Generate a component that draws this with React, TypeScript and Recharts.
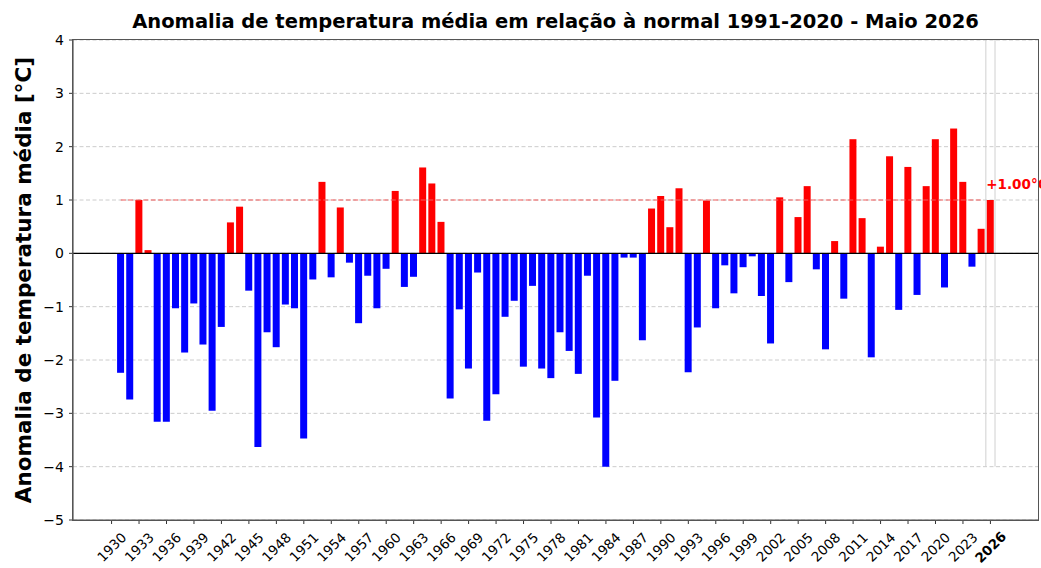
import {
  Bar,
  BarChart,
  CartesianGrid,
  Cell,
  ReferenceArea,
  ReferenceLine,
  XAxis,
  YAxis,
} from 'recharts'

const YEARS = [
  1930, 1931, 1932, 1933, 1934, 1935, 1936, 1937, 1938, 1939,
  1940, 1941, 1942, 1943, 1944, 1945, 1946, 1947, 1948, 1949,
  1950, 1951, 1952, 1953, 1954, 1955, 1956, 1957, 1958, 1959,
  1960, 1961, 1962, 1963, 1964, 1965, 1966, 1967, 1968, 1969,
  1970, 1971, 1972, 1973, 1974, 1975, 1976, 1977, 1978, 1979,
  1980, 1981, 1982, 1983, 1984, 1985, 1986, 1987, 1988, 1989,
  1990, 1991, 1992, 1993, 1994, 1995, 1996, 1997, 1998, 1999,
  2000, 2001, 2002, 2003, 2004, 2005, 2006, 2007, 2008, 2009,
  2010, 2011, 2012, 2013, 2014, 2015, 2016, 2017, 2018, 2019,
  2020, 2021, 2022, 2023, 2024, 2025, 2026,
]

// anomalia (°C) face à normal 1991-2020, maio de cada ano
const ANOMALIES = [
  0, -2.24, -2.74, 1.0, 0.06, -3.16, -3.16, -1.03, -1.86, -0.94,
  -1.71, -2.95, -1.38, 0.58, 0.875, -0.7, -3.63, -1.48, -1.76, -0.96,
  -1.03, -3.47, -0.49, 1.34, -0.45, 0.86, -0.175, -1.31, -0.42, -1.03,
  -0.29, 1.17, -0.63, -0.44, 1.61, 1.31, 0.59, -2.72, -1.05, -2.16,
  -0.36, -3.14, -2.64, -1.19, -0.89, -2.125, -0.61, -2.16, -2.34, -1.48,
  -1.83, -2.26, -0.42, -3.08, -4.0, -2.39, -0.08, -0.08, -1.63, 0.84,
  1.075, 0.49, 1.22, -2.23, -1.39, 0.99, -1.03, -0.225, -0.75, -0.26,
  -0.056, -0.8, -1.69, 1.05, -0.54, 0.68, 1.26, -0.3, -1.8, 0.23,
  -0.85, 2.14, 0.66, -1.95, 0.125, 1.82, -1.06, 1.62, -0.78, 1.26,
  2.14, -0.64, 2.34, 1.34, -0.25, 0.46, 1.0,
]

const Y_TICKS = [-5, -4, -3, -2, -1, 0, 1, 2, 3, 4]
const CURRENT_YEAR = 2026
const THRESHOLD = 1.0

const FONT = '"DejaVu Sans", sans-serif'
const FRAME = '#555'

// plot box, also used for the frame drawn around it
const PLOT = { left: 73, top: 40, width: 965, height: 480 }

const data = YEARS.map((year, i) => ({ year, value: ANOMALIES[i] }))

function formatMinus(v: number): string {
  return v < 0 ? `\u2212${Math.abs(v)}` : String(v)
}

function YearTick({ x, y, payload }: any) {
  const bold = payload.value === CURRENT_YEAR
  return (
    <g transform={`translate(${x},${y + 21}) rotate(-45)`}>
      <text
        textAnchor="middle"
        dominantBaseline="central"
        fontFamily={FONT}
        fontSize={13.5}
        fontWeight={bold ? 'bold' : 'normal'}
        fill="#000"
      >
        {payload.value}
      </text>
    </g>
  )
}

function YLabel({ viewBox }: any) {
  const cx = 23
  const cy = viewBox.y + viewBox.height / 2
  return (
    <text
      x={cx}
      y={cy}
      transform={`rotate(-90, ${cx}, ${cy})`}
      textAnchor="middle"
      dominantBaseline="central"
      fontFamily={FONT}
      fontSize={21.5}
      fontWeight="bold"
      fill="#000"
    >
      Anomalia de temperatura média [°C]
    </text>
  )
}

// the reference lets this label run past the right edge, so it is kept that way
function ThresholdLabel({ viewBox }: any) {
  return (
    <text
      x={viewBox.x + viewBox.width + 5}
      y={viewBox.y - 11}
      fontFamily={FONT}
      fontSize={13.5}
      fontWeight="bold"
      fill="#ff0000"
    >
      +{THRESHOLD.toFixed(2)}°C
    </text>
  )
}

/** only the two side edges of the highlighted year, like the original */
function SideEdges({ x, y, width, height }: any) {
  return (
    <g stroke="#d0d0d0" strokeWidth={1}>
      <line x1={x} y1={y} x2={x} y2={y + height} />
      <line x1={x + width} y1={y} x2={x + width} y2={y + height} />
    </g>
  )
}

export default function App() {
  return (
    <div style={{ position: 'relative', width: 1041, height: 568, background: '#fff', overflow: 'hidden' }}>
      <style>{'body{margin:0}'}</style>
      <div
        style={{
          position: 'absolute',
          left: PLOT.left,
          width: PLOT.width,
          top: 10,
          textAlign: 'center',
          fontFamily: FONT,
          fontWeight: 'bold',
          fontSize: 19.5,
          lineHeight: '24px',
          color: '#000',
          whiteSpace: 'nowrap',
        }}
      >
        Anomalia de temperatura média em relação à normal 1991-2020 - Maio 2026
      </div>
      <BarChart
        width={1041}
        height={568}
        data={data}
        margin={{ top: PLOT.top, right: 1041 - PLOT.left - PLOT.width, left: 0, bottom: 0 }}
      >
        <CartesianGrid
          vertical={false}
          stroke="#cccccc"
          strokeDasharray="4 2.5"
        />
        <XAxis
          dataKey="year"
          type="category"
          height={48}
          interval={2}
          padding={{ left: 34, right: 43 }}
          tick={<YearTick />}
          tickSize={4}
          tickLine={{ stroke: '#333' }}
          axisLine={{ stroke: FRAME, strokeWidth: 1.2 }}
        />
        <YAxis
          domain={[-5, 4]}
          ticks={Y_TICKS}
          width={PLOT.left}
          tickFormatter={formatMinus}
          tick={{ fontFamily: FONT, fontSize: 14, fill: '#000' }}
          tickSize={4}
          tickMargin={5}
          tickLine={{ stroke: '#333' }}
          axisLine={{ stroke: FRAME, strokeWidth: 1.2 }}
          label={<YLabel />}
        />
        <ReferenceArea
          x1={CURRENT_YEAR}
          x2={CURRENT_YEAR}
          y1={-4}
          y2={4}
          shape={<SideEdges />}
        />
        <ReferenceLine
          segment={[
            { x: 1931, y: THRESHOLD },
            { x: 2025, y: THRESHOLD },
          ]}
          stroke="#f25a5a"
          strokeWidth={1.2}
          strokeDasharray="5 2.5"
          label={<ThresholdLabel />}
        />
        <Bar dataKey="value" isAnimationActive={false}>
          {data.map((d) => (
            <Cell key={d.year} fill={d.value >= 0 ? '#ff0000' : '#0000ff'} />
          ))}
        </Bar>
        <ReferenceLine y={0} stroke="#000" strokeWidth={1.4} />
      </BarChart>
      <div
        style={{
          position: 'absolute',
          left: PLOT.left - 0.6,
          top: PLOT.top - 0.6,
          width: PLOT.width + 1.2,
          height: PLOT.height + 1.2,
          boxSizing: 'border-box',
          border: `1.2px solid ${FRAME}`,
          pointerEvents: 'none',
        }}
      />
    </div>
  )
}
